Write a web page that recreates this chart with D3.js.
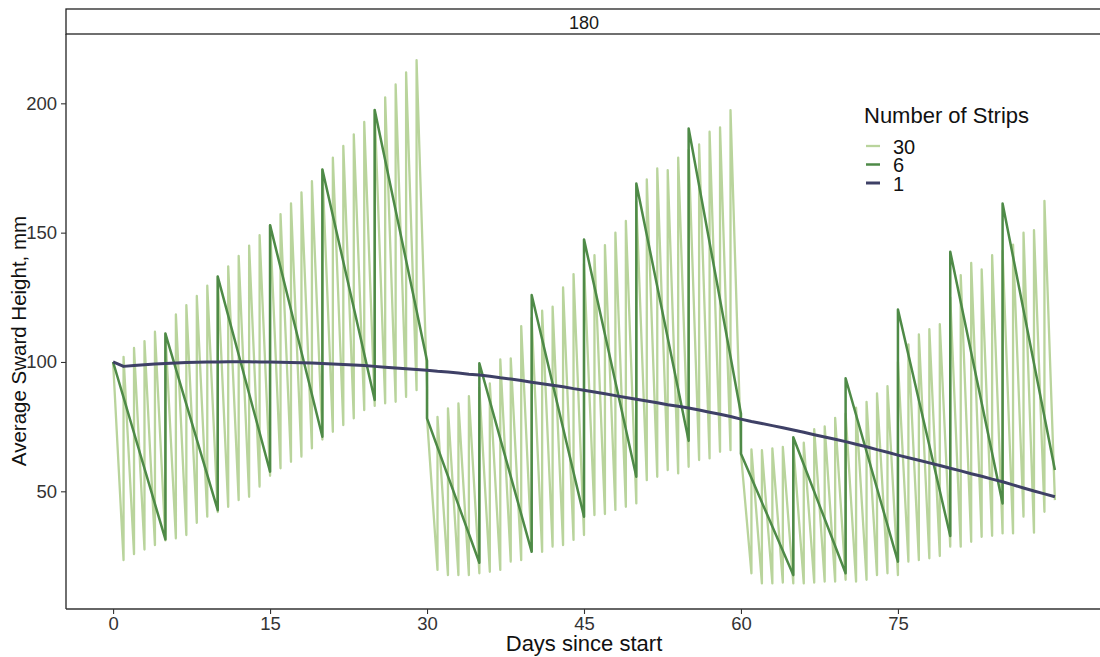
<!DOCTYPE html>
<html>
<head>
<meta charset="utf-8">
<script src="https://cdn.jsdelivr.net/npm/d3@7"></script>
<style>
  body { margin: 0; background: #fff; }
  svg text { font-family: "Liberation Sans", Arial, sans-serif; }
</style>
</head>
<body>
<div id="chart"></div>
<script>
// facet label and tick labels
const facetLabel = "180";
const xTicks = [0, 15, 30, 45, 60, 75];
const yTicks = [50, 100, 150, 200];

// 30 strips: one strip per day, height when the strip is entered (peak) and when it is left (trough, next day)
const peaks30 = [
  100, 102, 105.4, 108.1, 111.7, 111, 118.4, 122, 125.5, 129.5,
  133, 137, 141, 145, 149, 152.9, 157.2, 161.3, 165.6, 169.9,
  174.4, 179, 183.5, 188, 192.8, 197.4, 202.3, 207.3, 212, 216.7,
  78.2, 78.8, 82.1, 84, 86.8, 90, 91.7, 101, 101.4, 113.9,
  117, 119.8, 121.4, 128.8, 134, 138, 141.3, 145.2, 150, 154.5,
  162, 170.6, 174.8, 174.2, 179, 182, 184.1, 189, 190.7, 197.4,
  64.5, 66.2, 65.9, 66.6, 67.2, 68, 68.8, 74, 75.1, 78.4,
  80, 82.3, 84.6, 87.9, 90.7, 100, 106.8, 110.7, 112.7, 114.6,
  125, 133.6, 138.3, 135.8, 141.3, 143, 145.4, 150, 151, 162.3
];
const troughs30 = [
  23.4, 25.7, 27.5, 29.2, 31, 31.8, 33.1, 37.8, 40.2, 42,
  44, 46.6, 47.9, 51.8, 56, 58.9, 61.4, 63.4, 66.6, 70,
  73, 75.6, 78.2, 81.4, 83, 84, 84.6, 86.5, 89.1, 90,
  19.6, 17.6, 17.6, 17.6, 18.3, 18.9, 19.6, 22.8, 23.4, 27,
  26.6, 28.6, 29.2, 31.2, 33.1, 40.8, 41.2, 42.8, 44, 45.3,
  54.3, 55.6, 58.2, 56.9, 59.5, 62.1, 62.7, 65.3, 65.9, 66.5,
  18.3, 14.4, 14.4, 14.7, 14.4, 14.4, 14.7, 15.1, 15.1, 15.8,
  15.1, 15.8, 17.6, 18.3, 17.6, 22.8, 23.4, 24.1, 25, 28.6,
  28.6, 30.5, 32.4, 32.8, 33.7, 33.7, 40.2, 34, 42.1, 46.6
];

// 6 strips: a new strip every 5 days
const peaks6 = [100, 111, 133, 152.9, 174.4, 197.4, 78.2, 99.5, 125.9, 147.4, 169, 190.3, 64.5, 70.9, 93.7, 120.3, 142.6, 161.3];
const troughs6 = [31.4, 42.7, 57.6, 71.1, 85.3, 100.5, 22.4, 26.6, 40.2, 55.6, 69.5, 80, 17.6, 18.3, 22.8, 32.7, 45.3, 58.2];

// 1 strip: daily value, days 0..90
const height1 = [
  100, 98.3, 98.6, 98.9, 99.2, 99.4, 99.6, 99.8, 99.9, 100,
  100, 100.1, 100.1, 100.1, 100, 100, 99.9, 99.8, 99.7, 99.6,
  99.4, 99.2, 99, 98.8, 98.6, 98.3, 98, 97.7, 97.4, 97.1,
  96.8, 96.4, 96.1, 95.7, 95.3, 95, 94.5, 93.9, 93.4, 92.8,
  92.2, 91.6, 91, 90.4, 89.7, 89.1, 88.4, 87.7, 87, 86.3,
  85.6, 84.9, 84.2, 83.5, 82.9, 82.2, 81.4, 80.6, 79.8, 78.9,
  77.9, 77, 76.2, 75.4, 74.6, 73.7, 72.8, 71.9, 71, 70.1,
  69.2, 68.2, 67.2, 66.1, 65.1, 64, 63, 62, 61, 60,
  58.9, 57.9, 56.8, 55.8, 54.7, 53.7, 52.5, 51.3, 50.1, 49,
  47.9
];

const strips = ["30", "6", "1"];
const color = d3.scaleOrdinal().domain(strips).range(["#b9d49c", "#4e8a47", "#3e4066"]);
const widths = { "30": 2.3, "6": 2.5, "1": 3 };

const W = 1100, H = 657;
const margin = { left: 66, right: -2, top: 34, bottom: 48 };

const svg = d3.select("#chart").append("svg")
  .attr("width", W)
  .attr("height", H);

const x = d3.scaleLinear().domain([-4.5, 94.5]).range([margin.left, W - margin.right]);
const y = d3.scaleLinear().domain([4.5, 226.8]).range([H - margin.bottom, margin.top]);

// build the series point lists
const pts30 = [];
peaks30.forEach((p, d) => {
  pts30.push([d, p]);
  pts30.push([d + 1, troughs30[d]]);
});
const pts6 = [];
peaks6.forEach((p, k) => {
  pts6.push([k * 5, p]);
  pts6.push([k * 5 + 5, troughs6[k]]);
});
const pts1 = height1.map((v, d) => [d, v]);

const series = { "30": pts30, "6": pts6, "1": pts1 };

const line = d3.line()
  .x((d) => x(d[0]))
  .y((d) => y(d[1]));

const plot = svg.append("g").attr("class", "plot");
for (const s of strips) {
  plot.append("path")
    .datum(series[s])
    .attr("fill", "none")
    .attr("stroke", color(s))
    .attr("stroke-width", widths[s])
    .attr("stroke-linejoin", "round")
    .attr("d", line);
}

// axes
const xAxis = svg.append("g")
  .attr("transform", `translate(0,${H - margin.bottom})`)
  .call(d3.axisBottom(x).tickValues(xTicks).tickSize(5).tickPadding(3));
const yAxis = svg.append("g")
  .attr("transform", `translate(${margin.left},0)`)
  .call(d3.axisLeft(y).tickValues(yTicks).tickSize(5).tickPadding(4));

xAxis.select(".domain").attr("d", `M${margin.left},0H${W - margin.right}`);
yAxis.select(".domain").attr("d", `M0,${margin.top}V${H - margin.bottom}`);
for (const a of [xAxis, yAxis]) {
  a.select(".domain").attr("stroke", "#333").attr("stroke-width", 1.4);
  a.selectAll(".tick line").attr("stroke", "#333").attr("stroke-width", 1.1);
  a.selectAll(".tick text").attr("fill", "#333").style("font-size", "18.5px");
}

// axis titles
svg.append("text")
  .attr("x", (margin.left + W - margin.right) / 2)
  .attr("y", 651)
  .attr("text-anchor", "middle")
  .style("font-size", "22px")
  .attr("fill", "#111")
  .text("Days since start");

svg.append("text")
  .attr("transform", "translate(26,341) rotate(-90)")
  .attr("text-anchor", "middle")
  .style("font-size", "20.5px")
  .attr("fill", "#111")
  .text("Average Sward Height, mm");

// facet strip
svg.append("rect")
  .attr("x", margin.left)
  .attr("y", 9)
  .attr("width", W - margin.right - margin.left)
  .attr("height", margin.top - 9)
  .attr("fill", "#fff")
  .attr("stroke", "#222")
  .attr("stroke-width", 1.3);
svg.append("text")
  .attr("x", (margin.left + W - margin.right) / 2)
  .attr("y", 28.5)
  .attr("text-anchor", "middle")
  .style("font-size", "18px")
  .attr("fill", "#1a1a1a")
  .text(facetLabel);

// legend
const legend = svg.append("g").attr("transform", "translate(864,0)");
legend.append("text")
  .attr("x", 0)
  .attr("y", 123)
  .style("font-size", "22px")
  .attr("fill", "#111")
  .text("Number of Strips");
strips.forEach((s, i) => {
  const ly = 146 + i * 18.5;
  legend.append("line")
    .attr("x1", 2).attr("x2", 16)
    .attr("y1", ly).attr("y2", ly)
    .attr("stroke", color(s))
    .attr("stroke-width", widths[s]);
  legend.append("text")
    .attr("x", 29)
    .attr("y", ly + 7.5)
    .style("font-size", "20px")
    .attr("fill", "#111")
    .text(s);
});
</script>
</body>
</html>
